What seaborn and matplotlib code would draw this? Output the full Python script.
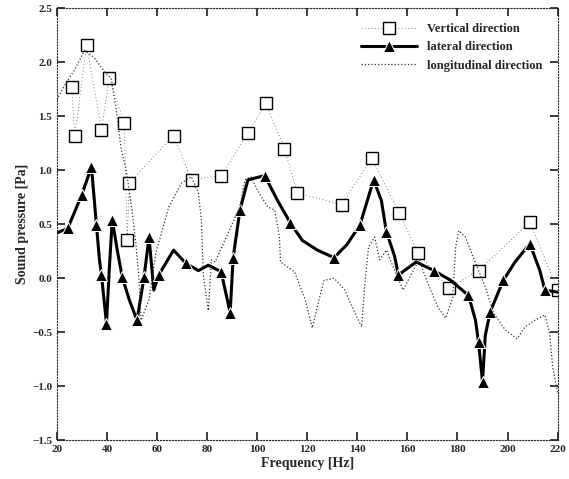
import matplotlib
matplotlib.use("Agg")
import matplotlib.pyplot as plt
import seaborn as sns

# vertical direction (squares)
vert_f = [25.9, 27.1, 31.9, 37.8, 40.9, 46.9, 48.1, 48.9, 66.6, 73.8, 85.6, 96.3,
          103.4, 110.9, 116.0, 133.8, 145.7, 156.8, 164.3, 176.5, 188.4, 208.9, 220.0]
vert_p = [1.77, 1.32, 2.16, 1.37, 1.85, 1.44, 0.35, 0.88, 1.32, 0.91, 0.95, 1.34,
          1.62, 1.20, 0.79, 0.68, 1.11, 0.60, 0.23, -0.09, 0.07, 0.52, -0.11]

# lateral direction (triangles)
lat_f = [20.0, 24.3, 29.9, 33.8, 35.8, 37.0, 37.8, 39.8, 40.9, 42.1, 44.1, 46.1, 48.9,
         52.0, 54.8, 56.8, 58.7, 60.7, 66.6, 71.4, 76.5, 80.5, 85.6, 89.2, 90.4, 93.1,
         96.3, 103.0, 108.1, 113.3, 118.0, 124.0, 130.7, 135.8, 141.0, 146.5, 149.6,
         151.6, 154.8, 156.4, 163.5, 170.6, 177.3, 184.4, 187.2, 188.4, 190.0, 191.1,
         193.1, 198.3, 203.0, 208.9, 212.9, 214.9, 220.0]
lat_p = [0.42, 0.46, 0.77, 1.03, 0.49, 0.17, 0.03, -0.42, 0.07, 0.54, 0.26, 0.01, -0.20,
         -0.39, 0.01, 0.38, -0.11, 0.03, 0.26, 0.14, 0.07, 0.12, 0.06, -0.32, 0.19, 0.63,
         0.91, 0.95, 0.72, 0.51, 0.35, 0.26, 0.19, 0.31, 0.49, 0.91, 0.72,
         0.43, 0.21, 0.03, 0.15, 0.07, -0.02, -0.16, -0.39, -0.59, -0.96, -0.53,
         -0.31, -0.02, 0.15, 0.32, 0.07, -0.11, -0.13]
lat_marks = [1, 2, 3, 4, 6, 7, 9, 11, 13, 14, 15, 17, 19, 22, 23, 24, 25, 27, 29, 32,
             34, 35, 37, 39, 41, 43, 45, 46, 48, 49, 51, 53]

# longitudinal direction (no markers)
lon_f = [20.0, 23.2, 27.1, 31.1, 35.0, 39.0, 41.7, 43.7, 45.7, 47.7, 50.0, 51.6, 52.8,
         53.6, 56.8, 59.5, 64.7, 69.8, 73.7, 76.5, 77.7, 78.5, 80.5, 81.7, 83.2, 88.4,
         93.1, 95.1, 97.5, 100.2, 104.2, 107.0, 108.9, 109.3, 114.9, 119.2, 122.0, 124.7,
         126.7, 130.7, 135.0, 138.6, 141.7, 142.9, 144.5, 146.9, 148.9, 151.6, 154.4,
         158.3, 162.3, 164.7, 168.2, 172.2, 175.3, 178.1, 179.3, 180.5, 183.2, 187.2,
         191.1, 194.3, 199.1, 203.8, 207.0, 210.9, 214.9, 216.8, 218.0, 220.0]
lon_p = [1.65, 1.79, 1.93, 2.11, 2.04, 1.91, 1.85, 1.56, 1.19, 1.00, 0.63, 0.31, -0.02,
         -0.39, -0.20, 0.23, 0.66, 0.88, 0.94, 0.79, 0.54, 0.03, -0.30, 0.17, 0.15, 0.42,
         0.66, 0.91, 0.94, 0.81, 0.66, 0.63, 0.38, 0.15, 0.06, -0.20, -0.46, -0.20,
         -0.02, 0.00, -0.11, -0.30, -0.45, -0.08, 0.29, 0.38, 0.17, 0.26, 0.10,
         -0.11, 0.07, 0.17, -0.05, -0.27, -0.37, -0.18, 0.29, 0.44, 0.38, 0.14,
         -0.08, -0.32, -0.48, -0.56, -0.45, -0.39, -0.34, -0.51, -0.82, -1.06]

x_ticks = [20, 40, 60, 80, 100, 120, 140, 160, 180, 200, 220]
y_ticks = [-1.5, -1.0, -0.5, 0.0, 0.5, 1.0, 1.5, 2.0, 2.5]

sns.set_theme(style="ticks")
plt.rcParams["font.family"] = ["Liberation Serif", "DejaVu Serif"]
plt.rcParams["font.weight"] = "bold"

fig, ax = plt.subplots(figsize=(5.69, 4.79), dpi=100)
fig.subplots_adjust(left=0.10, right=0.98, bottom=0.081, top=0.983)

sns.lineplot(x=vert_f, y=vert_p, ax=ax, color="0.35", lw=0.6, linestyle=(0, (1, 3)),
             marker="s", markersize=9, markerfacecolor="white",
             markeredgecolor="black", markeredgewidth=1.0, sort=False,
             label="Vertical direction")
sns.lineplot(x=lat_f, y=lat_p, ax=ax, color="black", lw=2.2, linestyle="-",
             marker="^", markersize=8, markevery=lat_marks, sort=False,
             label="lateral direction")
sns.lineplot(x=lon_f, y=lon_p, ax=ax, color="0.2", lw=0.9, linestyle=":",
             sort=False, label="longitudinal direction")

ax.set_xlim(20, 220)
ax.set_ylim(-1.5, 2.5)
ax.set_xticks(x_ticks)
ax.set_yticks(y_ticks)
ax.tick_params(direction="in", top=True, right=True, labelsize=8)
for s in ax.spines.values():
    s.set_linewidth(0.8)
    s.set_linestyle(":")
ax.set_xlabel("Frequency [Hz]", fontsize=10, fontweight="bold", labelpad=2)
ax.set_ylabel("Sound pressure [Pa]", fontsize=10, fontweight="bold", labelpad=2)

leg = ax.legend(loc="upper right", frameon=False, fontsize=9, handlelength=4.5,
                borderaxespad=0.8, labelspacing=0.5)

fig.savefig("out.png", dpi=100)
